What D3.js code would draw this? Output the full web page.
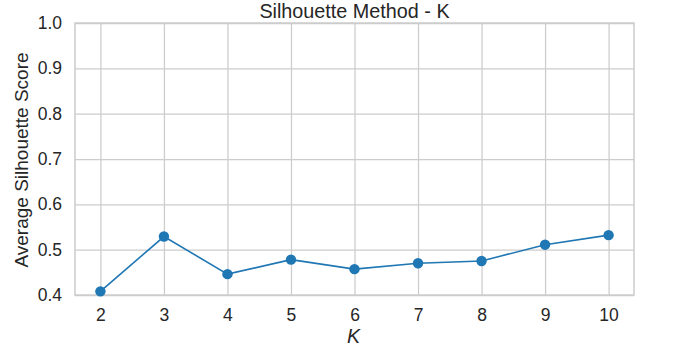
<!DOCTYPE html>
<html>
<head>
<meta charset="utf-8">
<script src="https://cdn.jsdelivr.net/npm/d3@7"></script>
<style>
  html, body { margin: 0; padding: 0; background: #fff; }
  svg { display: block; }
</style>
</head>
<body>
<svg id="chart" width="678" height="353"></svg>
<script>
const kValues = [2, 3, 4, 5, 6, 7, 8, 9, 10];
const silhouetteScores = [0.408, 0.529, 0.446, 0.478, 0.457, 0.470, 0.475, 0.511, 0.532];
const yTicks = [0.4, 0.5, 0.6, 0.7, 0.8, 0.9, 1.0];
const xTicks = [2, 3, 4, 5, 6, 7, 8, 9, 10];

const svg = d3.select("#chart");
const margin = { left: 75, right: 678 - 634, top: 23, bottom: 353 - 295 };
const W = 678, H = 353;
const font = "'Liberation Sans', Arial, sans-serif";
const textColor = "#262626";
const gridColor = "#cccccc";

const x = d3.scaleLinear().domain([1.6, 10.4]).range([margin.left, W - margin.right]);
const y = d3.scaleLinear().domain([0.4, 1.0]).range([H - margin.bottom, margin.top]);

// grid
const gx = svg.append("g")
  .attr("transform", `translate(0,${H - margin.bottom})`)
  .call(d3.axisBottom(x).tickValues(xTicks).tickSize(-(H - margin.bottom - margin.top)).tickPadding(14).tickFormat(d3.format("d")));
gx.select(".domain").remove();
gx.selectAll(".tick line").attr("stroke", gridColor).attr("stroke-width", 1.25);
gx.selectAll(".tick text").attr("fill", textColor).style("font-family", font).style("font-size", "17.5px");

const gy = svg.append("g")
  .attr("transform", `translate(${margin.left},0)`)
  .call(d3.axisLeft(y).tickValues(yTicks).tickSize(-(W - margin.right - margin.left)).tickPadding(13).tickFormat(d3.format(".1f")));
gy.select(".domain").remove();
gy.selectAll(".tick line").attr("stroke", gridColor).attr("stroke-width", 1.25);
gy.selectAll(".tick text").attr("fill", textColor).style("font-family", font).style("font-size", "17.5px");

// frame
svg.append("rect")
  .attr("x", margin.left).attr("y", margin.top)
  .attr("width", W - margin.right - margin.left)
  .attr("height", H - margin.bottom - margin.top)
  .attr("fill", "none").attr("stroke", gridColor).attr("stroke-width", 1.5);

// line
const line = d3.line().x((d, i) => x(kValues[i])).y(d => y(d));
svg.append("path")
  .datum(silhouetteScores)
  .attr("d", line)
  .attr("fill", "none")
  .attr("stroke", "#1f77b4")
  .attr("stroke-width", 1.6);

svg.append("g").selectAll("circle")
  .data(silhouetteScores)
  .join("circle")
  .attr("cx", (d, i) => x(kValues[i]))
  .attr("cy", d => y(d))
  .attr("r", 5.2)
  .attr("fill", "#1f77b4");

// title
svg.append("text")
  .attr("x", (margin.left + W - margin.right) / 2)
  .attr("y", 18)
  .attr("text-anchor", "middle")
  .attr("fill", textColor)
  .style("font-family", font)
  .style("font-size", "19.8px")
  .text("Silhouette Method - K");

// x label
svg.append("text")
  .attr("x", (margin.left + W - margin.right) / 2 - 1)
  .attr("y", 343)
  .attr("text-anchor", "middle")
  .attr("fill", textColor)
  .style("font-family", font)
  .style("font-size", "19.5px")
  .style("font-style", "italic")
  .text("K");

// y label
svg.append("text")
  .attr("transform", `translate(28,${(margin.top + H - margin.bottom) / 2 + 1}) rotate(-90)`)
  .attr("text-anchor", "middle")
  .attr("fill", textColor)
  .style("font-family", font)
  .style("font-size", "19px")
  .text("Average Silhouette Score");
</script>
</body>
</html>
